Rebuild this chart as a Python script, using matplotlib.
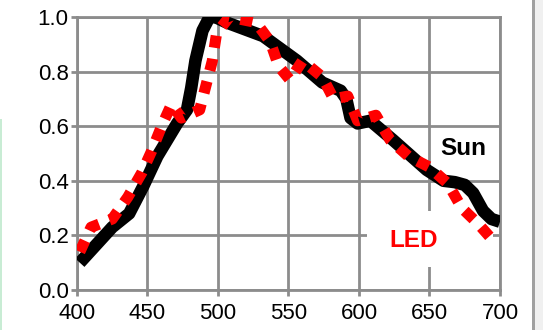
import numpy as np
import matplotlib.pyplot as plt
from matplotlib.patches import Rectangle

plt.rcParams['font.family'] = ['Liberation Sans', 'DejaVu Sans']

# Sun spectrum (normalised)
sun_nm = [402, 425, 437, 447, 457, 471, 478, 481, 484, 489, 494, 498, 506,
          532, 556, 574, 587, 591, 594, 599, 608, 624, 648, 660, 668, 675,
          681, 688, 694, 700]
sun_val = [0.10, 0.23, 0.28, 0.38, 0.49, 0.61, 0.66, 0.74, 0.84, 0.95, 1.00,
           1.00, 0.98, 0.93, 0.84, 0.76, 0.73, 0.70, 0.63, 0.61, 0.62, 0.55,
           0.44, 0.40, 0.395, 0.385, 0.355, 0.29, 0.26, 0.25]

# LED spectrum (normalised)
led_nm = [402, 410, 425, 436, 446, 453, 460, 467, 474, 487, 492, 496, 499,
          508, 527, 537, 543, 551, 560, 574, 582, 592, 599, 612, 622, 635,
          650, 663, 673, 685, 697]
led_val = [0.14, 0.23, 0.26, 0.34, 0.43, 0.51, 0.60, 0.68, 0.63, 0.66, 0.76,
           0.84, 0.94, 1.00, 0.98, 0.91, 0.82, 0.77, 0.84, 0.78, 0.70, 0.71,
           0.62, 0.64, 0.55, 0.49, 0.45, 0.39, 0.30, 0.24, 0.17]

fig = plt.figure(figsize=(5.43, 3.30), dpi=100)
ax = fig.add_axes([0.1418, 0.1212, 0.7790, 0.8273])

ax.plot(sun_nm, sun_val, color='black', lw=9, solid_joinstyle='round',
        solid_capstyle='butt', zorder=3)
ax.plot(led_nm, led_val, color='#ff0000', lw=8, linestyle=(0, (1.1, 1.0)),
        dash_capstyle='butt', zorder=4)

ax.set_xlim(400, 700)
ax.set_ylim(0, 1.0)
ax.set_xticks(np.arange(400, 701, 50))
ax.set_yticks(np.arange(0, 1.01, 0.2))
ax.set_yticklabels(['0.0', '0.2', '0.4', '0.6', '0.8', '1.0'])
ax.grid(True, color='#8c8c8c', lw=2)
for s in ax.spines.values():
    s.set_color('#8c8c8c')
    s.set_linewidth(2)
ax.tick_params(colors='#8c8c8c', width=2, length=4, labelcolor='black',
               labelsize=16)
ax.tick_params(axis='y', pad=2)
ax.tick_params(axis='x', pad=5)

ax.text(674, 0.52, 'Sun', fontsize=17.5, fontweight='bold', color='black',
        ha='center', va='center', zorder=5)
# white label box behind "LED" hides the grid there
ax.add_patch(Rectangle((606, 0.085), 89, 0.205, facecolor='white',
                       edgecolor='none', zorder=2.5))
ax.text(639, 0.18, 'LED', fontsize=17.5, fontweight='bold', color='#ff0000',
        ha='center', va='center', zorder=5)

# page elements around the chart
fig.patches.append(Rectangle((0, 0), 0.004, 0.64, transform=fig.transFigure,
                             facecolor='#c8ecd4', edgecolor='none'))
fig.patches.append(Rectangle((0.980, 0), 0.020, 1, transform=fig.transFigure,
                             facecolor='#f0f0f0', edgecolor='none'))
fig.patches.append(Rectangle((0.979, 0), 0.007, 1, transform=fig.transFigure,
                             facecolor='#a0a0a0', edgecolor='none'))

fig.savefig('out.png', dpi=100)
